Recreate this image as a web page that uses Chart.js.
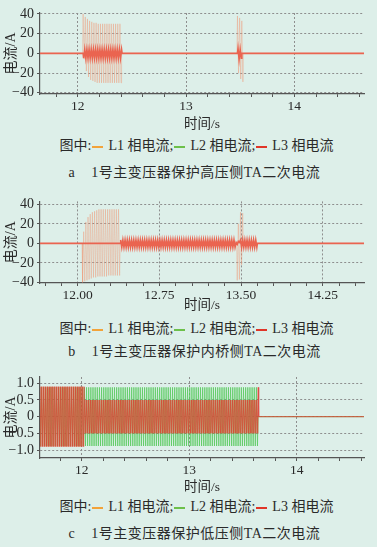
<!DOCTYPE html>
<html><head><meta charset="utf-8">
<script src="https://cdn.jsdelivr.net/npm/chart.js@4.4.1/dist/chart.umd.min.js"></script>
<style>
html,body{margin:0;padding:0;background:#ddefe9;}
#wrap{position:relative;width:377px;height:547px;overflow:hidden;background:#ddefe9;}
canvas{position:absolute;left:0;}
.txt{position:absolute;left:8px;width:377px;text-align:center;font-family:"Liberation Serif","Noto Sans CJK SC",serif;font-size:14px;color:#2a2a2a;white-space:pre;line-height:16px;}
.cap{letter-spacing:0.5px;left:6px;}
.dash{display:inline-block;width:11px;height:2px;vertical-align:middle;margin:0 5px 0 1px;}
</style></head>
<body><div id="wrap">
<canvas id="ca" width="377" height="133" style="top:0px"></canvas>
<div class="txt" style="top:138px">图中:<span class="dash" style="background:#f2a33a"></span>L1 相电流;<span class="dash" style="background:#6cc04a"></span>L2 相电流;<span class="dash" style="background:#e03528"></span>L3 相电流</div>
<div class="txt cap" style="top:165px">a    1号主变压器保护高压侧TA二次电流</div>
<canvas id="cb" width="377" height="124" style="top:190px"></canvas>
<div class="txt" style="top:321px">图中:<span class="dash" style="background:#f2a33a"></span>L1 相电流;<span class="dash" style="background:#6cc04a"></span>L2 相电流;<span class="dash" style="background:#e03528"></span>L3 相电流</div>
<div class="txt cap" style="top:344px">b    1号主变压器保护内桥侧TA二次电流</div>
<canvas id="cc" width="377" height="131" style="top:365px"></canvas>
<div class="txt" style="top:499px">图中:<span class="dash" style="background:#f2a33a"></span>L1 相电流;<span class="dash" style="background:#6cc04a"></span>L2 相电流;<span class="dash" style="background:#e03528"></span>L3 相电流</div>
<div class="txt cap" style="top:526px">c    1号主变压器保护低压侧TA二次电流</div>
</div>
<script>
// ---------- data (peak values of each half cycle, 50 Hz => 0.01 s per half cycle) ----------
const HALF = 0.01;
const seriesNames = ['L1 相电流', 'L2 相电流', 'L3 相电流'];

// a: high-voltage side
const aXTicks = [12, 13, 14];
const aYTicks = [-40, -20, 0, 20, 40];
const aL1Start1 = 12.05;
const aL1Peaks1 = [40,-6,37,-18,35,-24,33,-27,32,-28,31,-29,31,-30,30,-30,30,-30,
                   30,-30,30,-30,30,-30,30,-30,30,-30,30,-30,30,-30,30,-30,30,-30];
const aL1Start2 = 13.475;
const aL1Peaks2 = [38,-20,36,-26,33,-29];
const aL2Peaks = [];
const aL3Start1 = 12.055;
const aL3Peaks1 = [-5,4,-5,4,-5,4,-5,4,-5,4,-5,4,-5,4,-5,4,-5,4,
                   -5,4,-5,4,-5,4,-5,4,-5,4,-5,4,-5,4,-5,4,-5,4];
const aL3Start2 = 13.48;
const aL3Peaks2 = [5,-6,4,-5];

// b: inner bridge side
const bXTicks = [12.00, 12.75, 13.50, 14.25];
const bYTicks = [-40, -20, 0, 20, 40];
const bL1Start1 = 12.045;
const bL1Peaks1 = [-40,12,-39,22,-38,27,-37,30,-36,32,-35,33,-35,34,-34,35,-34,35,
                   -34,35,-34,35,-34,35,-33,35,-33,35,-33,35,-33,35,-33,35,-33];
const bL1Start2 = 13.465;
const bL1Peaks2 = [-38,20,-37,32,-22,31];
const bL3Start1 = 12.395;
const bL3Peaks1 = [3.5,-4,3.5,-4,3.5,-4,3.5,-4,3.5,-4,3.5,-4,3.5,-4,3.5,-4,3.5,-4,3.5,-4,
                   3.5,-4,3.5,-4,3.5,-4,3.5,-4,3.5,-4,3.5,-4,3.5,-4,3.5,-4,3.5,-4,3.5,-4,
                   3.5,-4,3.5,-4,3.5,-4,3.5,-4,3.5,-4,3.5,-4,3.5,-4,3.5,-4,3.5,-4,3.5,-4,
                   3.5,-4,3.5,-4,3.5,-4,3.5,-4,3.5,-4,3.5,-4,3.5,-4,3.5,-4,3.5,-4,3.5,-4,
                   3.5,-4,3.5,-4,3.5,-4,3.5,-4,3.5,-4,3.5,-4,3.5,-4,3.5,-4,3.5,-4,3.5,-4,
                   3.5,-4,3.5,-4,3.5,-4,
                   1,-1,2,1,
                   3.5,-4,3.5,-4,3.5,-4,3.5,-4,3.5,-4,3.5,-4,3.5,-4,3.5,-4];

// c: low-voltage side
const cXTicks = [12, 13, 14];
const cYTicks = [-1.0, -0.5, 0, 0.5, 1.0];
const cStart = 11.605;
const cL2Peaks = [
 0.88,-0.88,0.88,-0.88,0.88,-0.88,0.88,-0.88,0.88,-0.88,0.88,-0.88,0.88,-0.88,0.88,-0.88,0.88,-0.88,0.88,-0.88,
 0.88,-0.88,0.88,-0.88,0.88,-0.88,0.88,-0.88,0.88,-0.88,0.88,-0.88,0.88,-0.88,0.88,-0.88,0.88,-0.88,0.88,-0.88,
 0.88,-0.88,0.88,-0.88,0.88,-0.88,0.88,-0.88,0.88,-0.88,0.88,-0.88,0.88,-0.88,0.88,-0.88,0.88,-0.88,0.88,-0.88,
 0.88,-0.88,0.88,-0.88,0.88,-0.88,0.88,-0.88,0.88,-0.88,0.88,-0.88,0.88,-0.88,0.88,-0.88,0.88,-0.88,0.88,-0.88,
 0.88,-0.88,0.88,-0.88,0.88,-0.88,0.88,-0.88,0.88,-0.88,0.88,-0.88,0.88,-0.88,0.88,-0.88,0.88,-0.88,0.88,-0.88,
 0.88,-0.88,0.88,-0.88,0.88,-0.88,0.88,-0.88,0.88,-0.88,0.88,-0.88,0.88,-0.88,0.88,-0.88,0.88,-0.88,0.88,-0.88,
 0.88,-0.88,0.88,-0.88,0.88,-0.88,0.88,-0.88,0.88,-0.88,0.88,-0.88,0.88,-0.88,0.88,-0.88,0.88,-0.88,0.88,-0.88,
 0.88,-0.88,0.88,-0.88,0.88,-0.88,0.88,-0.88,0.88,-0.88,0.88,-0.88,0.88,-0.88,0.88,-0.88,0.88,-0.88,0.88,-0.88,
 0.88,-0.88,0.88,-0.88,0.88,-0.88,0.88,-0.88,0.88,-0.88,0.88,-0.88,0.88,-0.88,0.88,-0.88,0.88,-0.88,0.88,-0.88,
 0.88,-0.88,0.88,-0.88,0.88,-0.88,0.88,-0.88,0.88,-0.88,0.88,-0.88,0.88,-0.88,0.88,-0.88,0.88,-0.88,0.88,-0.88,
 0.88,-0.88,0.88,-0.88];
const cL1PeaksBefore = [
 0.9,-0.9,0.9,-0.9,0.9,-0.9,0.9,-0.9,0.9,-0.9,0.9,-0.9,0.9,-0.9,0.9,-0.9,0.9,-0.9,0.9,-0.9,
 0.9,-0.9,0.9,-0.9,0.9,-0.9,0.9,-0.9,0.9,-0.9,0.9,-0.9,0.9,-0.9,0.9,-0.9,0.9,-0.9,0.9,-0.9,
 0.9,-0.9];
const cL1PeaksAfter = [
 0.5,-0.5,0.5,-0.5,0.5,-0.5,0.5,-0.5,0.5,-0.5,0.5,-0.5,0.5,-0.5,0.5,-0.5,0.5,-0.5,0.5,-0.5,
 0.5,-0.5,0.5,-0.5,0.5,-0.5,0.5,-0.5,0.5,-0.5,0.5,-0.5,0.5,-0.5,0.5,-0.5,0.5,-0.5,0.5,-0.5,
 0.5,-0.5,0.5,-0.5,0.5,-0.5,0.5,-0.5,0.5,-0.5,0.5,-0.5,0.5,-0.5,0.5,-0.5,0.5,-0.5,0.5,-0.5,
 0.5,-0.5,0.5,-0.5,0.5,-0.5,0.5,-0.5,0.5,-0.5,0.5,-0.5,0.5,-0.5,0.5,-0.5,0.5,-0.5,0.5,-0.5,
 0.5,-0.5,0.5,-0.5,0.5,-0.5,0.5,-0.5,0.5,-0.5,0.5,-0.5,0.5,-0.5,0.5,-0.5,0.5,-0.5,0.5,-0.5,
 0.5,-0.5,0.5,-0.5,0.5,-0.5,0.5,-0.5,0.5,-0.5,0.5,-0.5,0.5,-0.5,0.5,-0.5,0.5,-0.5,0.5,-0.5,
 0.5,-0.5,0.5,-0.5,0.5,-0.5,0.5,-0.5,0.5,-0.5,0.5,-0.5,0.5,-0.5,0.5,-0.5,0.5,-0.5,0.5,-0.5,
 0.5,-0.5,0.5,-0.5,0.5,-0.5,0.5,-0.5,0.5,-0.5,0.5,-0.5,0.5,-0.5,0.5,-0.5,0.5,-0.5,0.5,-0.5,
 0.5,-0.5];
const cL3PeaksBefore = [
 -0.9,0.9,-0.9,0.9,-0.9,0.9,-0.9,0.9,-0.9,0.9,-0.9,0.9,-0.9,0.9,-0.9,0.9,-0.9,0.9,-0.9,0.9,
 -0.9,0.9,-0.9,0.9,-0.9,0.9,-0.9,0.9,-0.9,0.9,-0.9,0.9,-0.9,0.9,-0.9,0.9,-0.9,0.9,-0.9,0.9,
 -0.9,0.9];
const cL3PeaksAfter = [
 -0.5,0.5,-0.5,0.5,-0.5,0.5,-0.5,0.5,-0.5,0.5,-0.5,0.5,-0.5,0.5,-0.5,0.5,-0.5,0.5,-0.5,0.5,
 -0.5,0.5,-0.5,0.5,-0.5,0.5,-0.5,0.5,-0.5,0.5,-0.5,0.5,-0.5,0.5,-0.5,0.5,-0.5,0.5,-0.5,0.5,
 -0.5,0.5,-0.5,0.5,-0.5,0.5,-0.5,0.5,-0.5,0.5,-0.5,0.5,-0.5,0.5,-0.5,0.5,-0.5,0.5,-0.5,0.5,
 -0.5,0.5,-0.5,0.5,-0.5,0.5,-0.5,0.5,-0.5,0.5,-0.5,0.5,-0.5,0.5,-0.5,0.5,-0.5,0.5,-0.5,0.5,
 -0.5,0.5,-0.5,0.5,-0.5,0.5,-0.5,0.5,-0.5,0.5,-0.5,0.5,-0.5,0.5,-0.5,0.5,-0.5,0.5,-0.5,0.5,
 -0.5,0.5,-0.5,0.5,-0.5,0.5,-0.5,0.5,-0.5,0.5,-0.5,0.5,-0.5,0.5,-0.5,0.5,-0.5,0.5,-0.5,0.5,
 -0.5,0.5,-0.5,0.5,-0.5,0.5,-0.5,0.5,-0.5,0.5,-0.5,0.5,-0.5,0.5,-0.5,0.5,-0.5,0.5,-0.5,0.5,
 -0.5,0.5,-0.5,0.5,-0.5,0.5,-0.5,0.5,-0.5,0.5,-0.5,0.5,-0.5,0.5,-0.5,0.5,-0.5,0.5,-0.5,0.5,
 -0.5,0.88];

// ---------- build points ----------
function wave(xMin, xMax, bursts) {
  const pts = [{x: xMin - 0.1, y: 0}];
  bursts.forEach(([s, peaks]) => {
    if (!peaks.length) return;
    pts.push({x: s - HALF / 2, y: 0});
    peaks.forEach((v, i) => pts.push({x: s + i * HALF, y: v}));
    pts.push({x: s + (peaks.length - 0.5) * HALF, y: 0});
  });
  pts.push({x: xMax + 0.1, y: 0});
  return pts;
}

const FONT = '"Liberation Serif", "Noto Sans CJK SC", serif';
Chart.defaults.font.family = FONT;
const near = (a, b) => Math.abs(a - b) < 1e-6;

function makeChart(id, o) {
  const isMajor = v => o.xTicks.some(t => near(t, v));
  new Chart(document.getElementById(id), {
    type: 'line',
    data: {
      datasets: [
        {label: seriesNames[0], data: o.l1, borderColor: o.c1, borderWidth: o.w1, order: 1},
        {label: seriesNames[1], data: o.l2, borderColor: o.c2, borderWidth: o.w2, order: 2},
        {label: seriesNames[2], data: o.l3, borderColor: o.c3, borderWidth: o.w3, order: 0}
      ]
    },
    options: {
      responsive: false, animation: false, devicePixelRatio: 1,
      events: [],
      elements: {point: {radius: 0}, line: {tension: 0, fill: false}},
      layout: {padding: {top: o.padTop, right: 13, left: 0, bottom: 0}},
      plugins: {legend: {display: false}, tooltip: {enabled: false}},
      scales: {
        x: {
          type: 'linear', min: o.xMin, max: o.xMax,
          afterFit(s) { s.height = o.xh; },
          ticks: {
            stepSize: o.xMinor, autoSkip: false, includeBounds: false, maxRotation: 0,
            padding: 1, color: '#2a2a2a', font: {size: 13.5},
            callback: v => isMajor(v) ? v.toFixed(o.xDec) : ''
          },
          grid: {
            color: c => isMajor(c.tick.value) ? '#8e8e8e' : 'rgba(0,0,0,0)',
            tickColor: '#555', tickLength: 3, lineWidth: 1
          },
          border: {display: true, color: '#555', width: 1.2, dash: [2, 2]},
          title: {display: true, text: '时间/s', color: '#2a2a2a', font: {size: 13.5}, padding: {top: 0, bottom: 0}}
        },
        y: {
          min: o.yMin, max: o.yMax,
          afterFit(s) { s.width = 40; },
          ticks: {
            stepSize: o.yStep, includeBounds: false, padding: 3, color: '#2a2a2a', font: {size: 14},
            callback: v => {
              const ok = o.yTicks.some(t => near(t, v));
              if (!ok) return '';
              const s = near(v, 0) ? '0' : v.toFixed(o.yDec);
              return s.replace('-', '\u2212');
            }
          },
          grid: {color: '#8e8e8e', tickColor: '#555', tickLength: 3, lineWidth: 1},
          border: {display: true, color: '#555', width: 1.2, dash: [2, 2]},
          title: {display: true, text: '电流/A', color: '#2a2a2a', font: {size: 14}, padding: {top: 3, bottom: 0}}
        }
      }
    }
  });
}

const BIG = 'rgba(240,150,115,0.42)';
const RED = 'rgb(234,100,80)';
const ZERO = 'rgba(0,0,0,0)';
const GREEN = 'rgba(85,200,90,0.9)';
const ORANGE = 'rgba(205,100,55,0.75)';
const RED_C = 'rgba(222,62,50,0.8)';

makeChart('ca', {
  xMin: 11.652, xMax: 14.643, xTicks: aXTicks, xMinor: 0.2, xDec: 0, xh: 39, padTop: 13,
  yMin: -41.3, yMax: 41.0, yStep: 20, yTicks: aYTicks, yDec: 0,
  l1: wave(11.652, 14.643, [[aL1Start1, aL1Peaks1], [aL1Start2, aL1Peaks2]]),
  l2: wave(11.652, 14.643, [[aL1Start1, aL2Peaks]]),
  l3: wave(11.652, 14.643, [[aL3Start1, aL3Peaks1], [aL3Start2, aL3Peaks2]]),
  c1: BIG, c2: ZERO, c3: RED, w1: 0.9, w2: 1, w3: 1.6
});
makeChart('cb', {
  xMin: 11.654, xMax: 14.629, xTicks: bXTicks, xMinor: 0.15, xDec: 2, xh: 31, padTop: 11,
  yMin: -40.7, yMax: 43.1, yStep: 20, yTicks: bYTicks, yDec: 0,
  l1: wave(11.654, 14.629, [[bL1Start1, bL1Peaks1], [bL1Start2, bL1Peaks2]]),
  l2: wave(11.654, 14.629, [[bL1Start1, aL2Peaks]]),
  l3: wave(11.654, 14.629, [[bL3Start1, bL3Peaks1]]),
  c1: BIG, c2: ZERO, c3: RED, w1: 0.9, w2: 1, w3: 1.6
});
makeChart('cc', {
  xMin: 11.612, xMax: 14.626, xTicks: cXTicks, xMinor: 0.2, xDec: 0, xh: 38, padTop: 12,
  yMin: -1.24, yMax: 1.19, yStep: 0.5, yTicks: cYTicks, yDec: 1,
  l1: wave(11.612, 14.626, [[cStart + HALF / 3, cL1PeaksBefore.concat(cL1PeaksAfter)]]),
  l2: wave(11.612, 14.626, [[cStart, cL2Peaks]]),
  l3: wave(11.612, 14.626, [[cStart + 2 * HALF / 3, cL3PeaksBefore.concat(cL3PeaksAfter)]]),
  c1: ORANGE, c2: GREEN, c3: RED_C, w1: 0.8, w2: 0.8, w3: 0.8
});
</script>
</body></html>
